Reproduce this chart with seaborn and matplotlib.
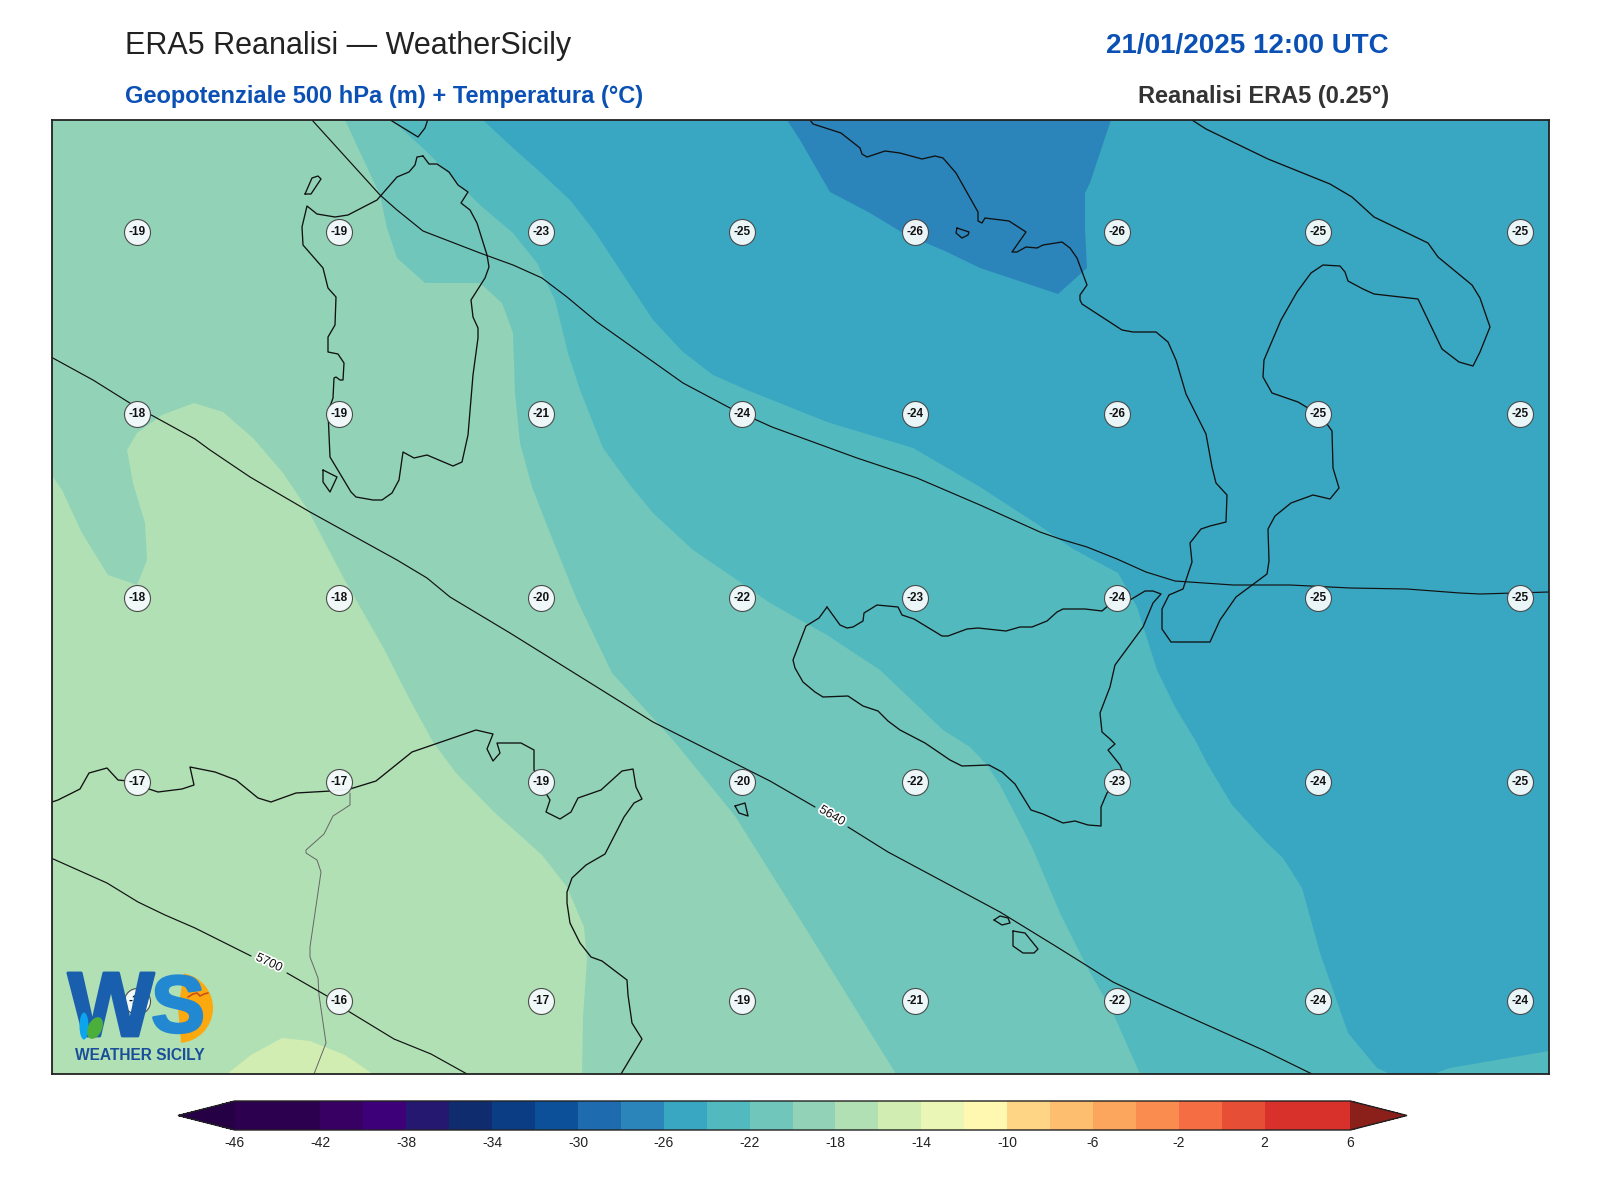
import numpy as np
import matplotlib
matplotlib.use('Agg')
import matplotlib.pyplot as plt
import matplotlib.patheffects as pe
from matplotlib.colors import ListedColormap, BoundaryNorm
from matplotlib.cm import ScalarMappable
from matplotlib.patches import Wedge, Ellipse
import seaborn as sns

sns.set_theme(style='white')
plt.rcParams['font.family'] = ['Liberation Sans', 'DejaVu Sans']
plt.rcParams['axes.unicode_minus'] = False

# Colour bands, -46 to 6 in steps of 2
levels = list(range(-46, 8, 2))
tick_vals = list(range(-46, 8, 4))
band_hex = ['#2d004f', '#2d004f', '#370062', '#3e0078', '#241870', '#0f2c6e', '#0a3d84',
            '#0b5098', '#1f6bb0', '#2b85bb', '#3aa7c2', '#52babf', '#70c6bb', '#92d3b8',
            '#b0e0b4', '#d2edb2', '#e9f6b5', '#fef8b0', '#fed585', '#fdbe70', '#fca55d',
            '#fa8c50', '#f46d43', '#e64e35', '#d8302a', '#d8302a']

# Temperature labels (map x, map y, deg C)
label_x = [137, 339, 541, 742, 915, 1117, 1318, 1520]
label_y = [232, 414, 598, 782, 1001]
temp_labels = [
    [-19, -19, -23, -25, -26, -26, -25, -25],
    [-18, -19, -21, -24, -24, -26, -25, -25],
    [-18, -18, -20, -22, -23, -24, -25, -25],
    [-17, -17, -19, -20, -22, -23, -24, -25],
    [-16, -16, -17, -19, -21, -22, -24, -24],
]

# Isotherms, closed along the frame
warmer_16_x = [227, 251, 282, 310, 345, 373]
warmer_16_y = [1074, 1055, 1038, 1041, 1055, 1074]
colder_18_x = [51, 51, 62, 82, 108, 137, 147, 145, 133, 127, 137, 162, 194, 223, 253, 283, 308,
               343, 383, 410, 433, 456, 494, 542, 567, 584, 587, 583, 582, 1549, 1549]
colder_18_y = [120, 474, 490, 533, 575, 585, 560, 523, 483, 450, 433, 415, 403, 412, 438, 473, 510,
               577, 647, 700, 742, 773, 812, 855, 887, 927, 960, 1017, 1074, 1074, 120]
colder_20_x = [345, 380, 387, 397, 425, 463, 480, 502, 513, 515, 520, 532, 550, 577, 612, 673,
               735, 806, 896, 1549, 1549]
colder_20_y = [120, 195, 228, 258, 283, 283, 283, 303, 333, 393, 443, 487, 533, 600, 673, 740,
               816, 929, 1074, 1074, 120]
colder_22_x = [392, 427, 453, 480, 513, 537, 555, 568, 580, 603, 630, 653, 693, 740, 770, 827, 880,
               943, 970, 987, 1000, 1013, 1032, 1060, 1087, 1113, 1140, 1549, 1549]
colder_22_y = [120, 152, 178, 205, 233, 263, 300, 353, 390, 448, 485, 513, 550, 582, 603, 635, 670,
               730, 747, 765, 785, 810, 847, 913, 967, 1013, 1074, 1074, 120]
colder_24_x = [483, 513, 540, 570, 595, 620, 653, 683, 713, 747, 827, 913, 980, 1040, 1073, 1118,
               1137, 1157, 1175, 1195, 1208, 1232, 1267, 1283, 1302, 1320, 1348, 1377, 1390, 1433,
               1450, 1549, 1549]
colder_24_y = [120, 148, 172, 200, 232, 270, 320, 352, 375, 390, 422, 448, 487, 526, 549, 573,
               607, 670, 707, 740, 765, 805, 843, 858, 888, 953, 1033, 1068, 1074, 1074,
               1068, 1051, 120]
colder_26_x = [787, 800, 830, 870, 903, 947, 980, 1058, 1087, 1085, 1085, 1090, 1111]
colder_26_y = [120, 140, 192, 213, 233, 252, 268, 294, 268, 228, 193, 183, 120]

# 500 hPa height lines
z5580_x = [312, 380, 397, 423, 480, 513, 542, 567, 597, 683, 730, 772, 857, 917, 980, 1040, 1060,
           1087, 1117, 1146, 1175, 1233, 1290, 1350, 1407, 1460, 1480, 1549]
z5580_y = [120, 195, 210, 231, 253, 265, 278, 297, 322, 383, 408, 427, 458, 478, 505, 532, 539,
           547, 559, 572, 581, 585, 585, 588, 589, 593, 594, 592]
z5640_a_x = [51, 93, 133, 195, 210, 250, 310, 397, 427, 450, 510, 653, 770, 815]
z5640_a_y = [357, 380, 405, 439, 450, 477, 512, 560, 578, 597, 633, 722, 781, 807]
z5640_b_x = [848, 888, 1000, 1057, 1113, 1147, 1207, 1263, 1312]
z5640_b_y = [827, 852, 912, 947, 982, 998, 1025, 1050, 1074]
z5700_a_x = [51, 107, 138, 165, 195, 251]
z5700_a_y = [858, 883, 902, 915, 928, 956]
z5700_b_x = [287, 327, 348, 394, 431, 467]
z5700_b_y = [973, 996, 1011, 1039, 1054, 1074]

# Coastlines
sardinia_x = [423, 429, 437, 449, 458, 468, 461, 470, 477, 487, 489, 485, 471, 473, 478, 478, 473,
              468, 462, 453, 427, 414, 403, 399, 392, 382, 373, 356, 351, 330, 328, 333, 334, 336,
              340, 343, 344, 338, 328, 328, 335, 336, 328, 323, 303, 302, 307, 317, 335, 348, 377,
              397, 409, 415, 417, 423]
sardinia_y = [156, 164, 164, 172, 185, 192, 203, 210, 223, 255, 267, 278, 300, 317, 328, 338, 375,
              435, 462, 466, 455, 458, 452, 480, 493, 500, 500, 497, 492, 457, 412, 398, 378, 377,
              380, 380, 363, 354, 352, 337, 325, 297, 288, 268, 245, 227, 206, 214, 217, 215, 200,
              177, 172, 165, 157, 156]
asinara_x = [305, 311, 317, 321, 318, 312, 305]
asinara_y = [194, 194, 185, 179, 176, 178, 194]
antioco_x = [323, 337, 330, 323, 323]
antioco_y = [470, 477, 492, 482, 470]
corsica_x = [386, 392, 418, 425, 427, 428]
corsica_y = [117, 121, 137, 128, 122, 117]
sicily_x = [827, 819, 806, 793, 795, 803, 815, 823, 848, 863, 878, 888, 900, 925, 950, 962, 989,
            1002, 1015, 1031, 1043, 1063, 1075, 1088, 1101, 1101, 1101, 1107, 1117, 1122, 1120,
            1108, 1115, 1110, 1102, 1100, 1110, 1115, 1143, 1153, 1161, 1153, 1145, 1130, 1117,
            1102, 1085, 1063, 1057, 1047, 1032, 1020, 1006, 978, 967, 948, 942, 914, 902, 898,
            877, 864, 863, 853, 847, 840, 827]
sicily_y = [607, 618, 626, 660, 668, 682, 692, 697, 696, 706, 711, 721, 730, 743, 760, 766, 765,
            772, 784, 810, 814, 823, 821, 825, 826, 815, 807, 793, 781, 770, 765,
            750, 744, 739, 732, 713, 687, 665, 627, 603, 594, 591, 591, 600, 598,
            611, 609, 609, 612, 621, 627, 627, 631, 628, 629, 636, 636, 619, 615, 607,
            605, 613, 621, 627, 628, 625, 607]
italy_x = [810, 813, 841, 860, 862, 867, 885, 900, 922, 935, 943, 956, 978, 978, 982, 985, 1009,
           1026, 1012, 1017, 1026, 1037, 1043, 1062, 1070, 1077, 1087, 1080, 1080, 1082, 1122,
           1133, 1156, 1168, 1176, 1186, 1206, 1212, 1216, 1227, 1226, 1210, 1201, 1190, 1192,
           1183, 1169, 1162, 1162, 1171, 1210, 1220, 1236, 1267, 1269, 1268, 1275, 1291, 1313,
           1330, 1339, 1333, 1332, 1327, 1318, 1298, 1272, 1263, 1264, 1281, 1297, 1311, 1323,
           1340, 1345, 1348, 1363, 1374, 1418, 1442, 1459, 1473, 1480, 1490, 1480, 1472, 1438,
           1428, 1374, 1352, 1330, 1268, 1206, 1192]
italy_y = [120, 124, 133, 148, 154, 157, 151, 153, 159, 156, 158, 173, 212, 221, 223, 218, 221,
           232, 252, 252, 247, 248, 245, 242, 248, 258, 285, 295, 300, 304, 330,
           332, 332, 342, 360, 394, 434, 467, 483, 495, 522, 526, 529, 543, 562,
           589, 595, 609, 629, 642, 642, 620, 597, 574, 561, 529, 516, 503, 495,
           499, 488, 468, 431, 424, 414, 402, 393, 377, 360, 320, 292, 273, 265,
           266, 272, 281, 289, 294, 299, 349, 362, 366, 352, 327, 298, 285, 257,
           243, 217, 197, 184, 159, 129, 120]
ischia_x = [957, 969, 968, 962, 956, 957]
ischia_y = [228, 232, 235, 238, 233, 228]
africa_x = [52, 58, 80, 89, 107, 118, 137, 149, 158, 182, 194, 190, 215, 236, 258, 271, 296, 331,
            350, 376, 412, 476, 493, 487, 493, 500, 497, 521, 534, 534, 540, 547, 550, 546, 560,
            571, 578, 601, 622, 633, 636, 642, 634, 624, 605, 586, 572, 567, 567, 570, 580, 591,
            602, 627, 628, 632, 642, 621]
africa_y = [802, 800, 789, 773, 768, 780, 782, 789, 792, 789, 785, 767, 772, 780, 798, 802, 793, 791,
            789, 781, 752, 730, 734, 749, 761, 753, 743, 743, 750, 770, 781, 795, 800, 812, 819,
            812, 798, 790, 771, 769, 787, 799, 803, 817, 854, 865, 878, 892, 903, 923, 943, 957,
            961, 980, 995, 1023, 1039, 1074]
border_x = [350, 350, 333, 324, 306, 306, 317, 321, 310, 310, 318, 319, 326, 314]
border_y = [793, 805, 816, 834, 850, 853, 860, 872, 947, 957, 978, 995, 1043, 1074]
pantelleria_x = [735, 745, 748, 739, 735]
pantelleria_y = [806, 803, 816, 813, 806]
gozo_x = [994, 1000, 1008, 1010, 1002, 994]
gozo_y = [920, 916, 918, 923, 925, 920]
malta_x = [1013, 1025, 1038, 1034, 1023, 1013, 1013]
malta_y = [931, 933, 949, 953, 953, 946, 931]

coasts = [(sardinia_x, sardinia_y), (asinara_x, asinara_y), (antioco_x, antioco_y),
          (corsica_x, corsica_y), (sicily_x, sicily_y), (italy_x, italy_y), (ischia_x, ischia_y),
          (africa_x, africa_y), (pantelleria_x, pantelleria_y), (gozo_x, gozo_y), (malta_x, malta_y)]
heights = [(z5580_x, z5580_y), (z5640_a_x, z5640_a_y), (z5640_b_x, z5640_b_y),
           (z5700_a_x, z5700_a_y), (z5700_b_x, z5700_b_y)]

cmap = ListedColormap(sns.color_palette(band_hex))
cmap.set_under('#250045')
cmap.set_over('#8b1f1a')
norm = BoundaryNorm(levels, cmap.N)

fig = plt.figure(figsize=(16, 12), dpi=100)
ax = fig.add_axes([51.5 / 1600, 1 - 1074 / 1200, 1497.5 / 1600, 954 / 1200])

# warmest band is the background, the others are painted over it from warm to cold
ax.set_facecolor(cmap(norm(-17)))
ax.fill(warmer_16_x, warmer_16_y, color=cmap(norm(-15)), lw=0)
ax.fill(colder_18_x, colder_18_y, color=cmap(norm(-19)), lw=0)
ax.fill(colder_20_x, colder_20_y, color=cmap(norm(-21)), lw=0)
ax.fill(colder_22_x, colder_22_y, color=cmap(norm(-23)), lw=0)
ax.fill(colder_24_x, colder_24_y, color=cmap(norm(-25)), lw=0)
ax.fill(colder_26_x, colder_26_y, color=cmap(norm(-27)), lw=0)

for cx, cy in coasts:
    sns.lineplot(x=cx, y=cy, sort=False, estimator=None, color='#111111', linewidth=0.95, ax=ax)
sns.lineplot(x=border_x, y=border_y, sort=False, estimator=None, color='#666666', linewidth=0.7, ax=ax)
for hx, hy in heights:
    sns.lineplot(x=hx, y=hy, sort=False, estimator=None, color='#111111', linewidth=0.85, ax=ax)

halo = [pe.withStroke(linewidth=2.5, foreground='white')]
ax.text(832, 816, '5640', fontsize=9, rotation=-31, ha='center', va='center', color='#111111',
        path_effects=halo, zorder=4)
ax.text(269, 963, '5700', fontsize=9, rotation=-25, ha='center', va='center', color='#111111',
        path_effects=halo, zorder=4)

# temperature labels
for row, ly in zip(temp_labels, label_y):
    sns.scatterplot(x=label_x, y=[ly] * len(label_x), s=350, color='#f5fafc', edgecolor='#444444',
                    linewidth=0.8, alpha=0.95, zorder=5, ax=ax)
    for lx, val in zip(label_x, row):
        ax.text(lx, ly, str(val), fontsize=8.5, fontweight='bold', ha='center', va='center',
                color='#111111', zorder=6)

# logo
ax.add_patch(Wedge((178, 1008), 35, -80, 85, facecolor='#fba90f', edgecolor='none', zorder=7))
ax.text(111, 1012, 'W', fontsize=66, fontweight='bold', ha='center', va='center', color='#1a5fae',
        path_effects=[pe.withStroke(linewidth=2, foreground='#1a5fae')], zorder=8)
ax.text(178, 1011, 'S', fontsize=58, fontweight='bold', ha='center', va='center', color='#2388d2',
        path_effects=[pe.withStroke(linewidth=2, foreground='#2388d2')], zorder=8)
ax.add_patch(Ellipse((95, 1028), 14, 23, angle=25, facecolor='#4caf3c', edgecolor='none', zorder=9))
ax.add_patch(Ellipse((84, 1026), 9, 27, facecolor='#0aa5ee', edgecolor='none', zorder=8.5))
ax.plot([188, 193, 197, 200, 204, 208], [997, 994, 993, 996, 994, 993], color='#c8501a', lw=1.2, zorder=9)
ax.text(140, 1055, 'WEATHER SICILY', fontsize=11.2, fontweight='bold', ha='center', va='center',
        color='#1a4e9a', zorder=8)

ax.set_xlim(51.5, 1549)
ax.set_ylim(1074, 120)
ax.set_xticks([])
ax.set_yticks([])
ax.set_xlabel('')
ax.set_ylabel('')
for sp in ax.spines.values():
    sp.set_visible(True)
    sp.set_color('#222222')
    sp.set_linewidth(1.3)
    sp.set_zorder(20)

# colorbar, the axes run from tip to tip of the extensions
cax = fig.add_axes([178 / 1600, 1 - 1130 / 1200, 1229 / 1600, 29 / 1200])
sm = ScalarMappable(norm=norm, cmap=cmap)
cb = fig.colorbar(sm, cax=cax, orientation='horizontal', extend='both', extendfrac=0.0508,
                  ticks=tick_vals, spacing='proportional')
cb.ax.tick_params(which='both', length=0, labelsize=10, pad=4, colors='#222222')
cb.outline.set_edgecolor('#222222')
cb.outline.set_linewidth(1.0)

# titles
fig.text(124.5 / 1600, 1 - 46 / 1200, 'ERA5 Reanalisi — WeatherSicily', fontsize=22,
         ha='left', va='center', color='#222222')
fig.text(1389 / 1600, 1 - 46 / 1200, '21/01/2025 12:00 UTC', fontsize=20, fontweight='bold',
         ha='right', va='center', color='#0b50b4')
fig.text(124.5 / 1600, 1 - 97 / 1200, 'Geopotenziale 500 hPa (m) + Temperatura (°C)', fontsize=17,
         fontweight='bold', ha='left', va='center', color='#0b50b4')
fig.text(1389 / 1600, 1 - 97 / 1200, 'Reanalisi ERA5 (0.25°)', fontsize=17, fontweight='bold',
         ha='right', va='center', color='#333333')

fig.savefig('out.png', dpi=100)
